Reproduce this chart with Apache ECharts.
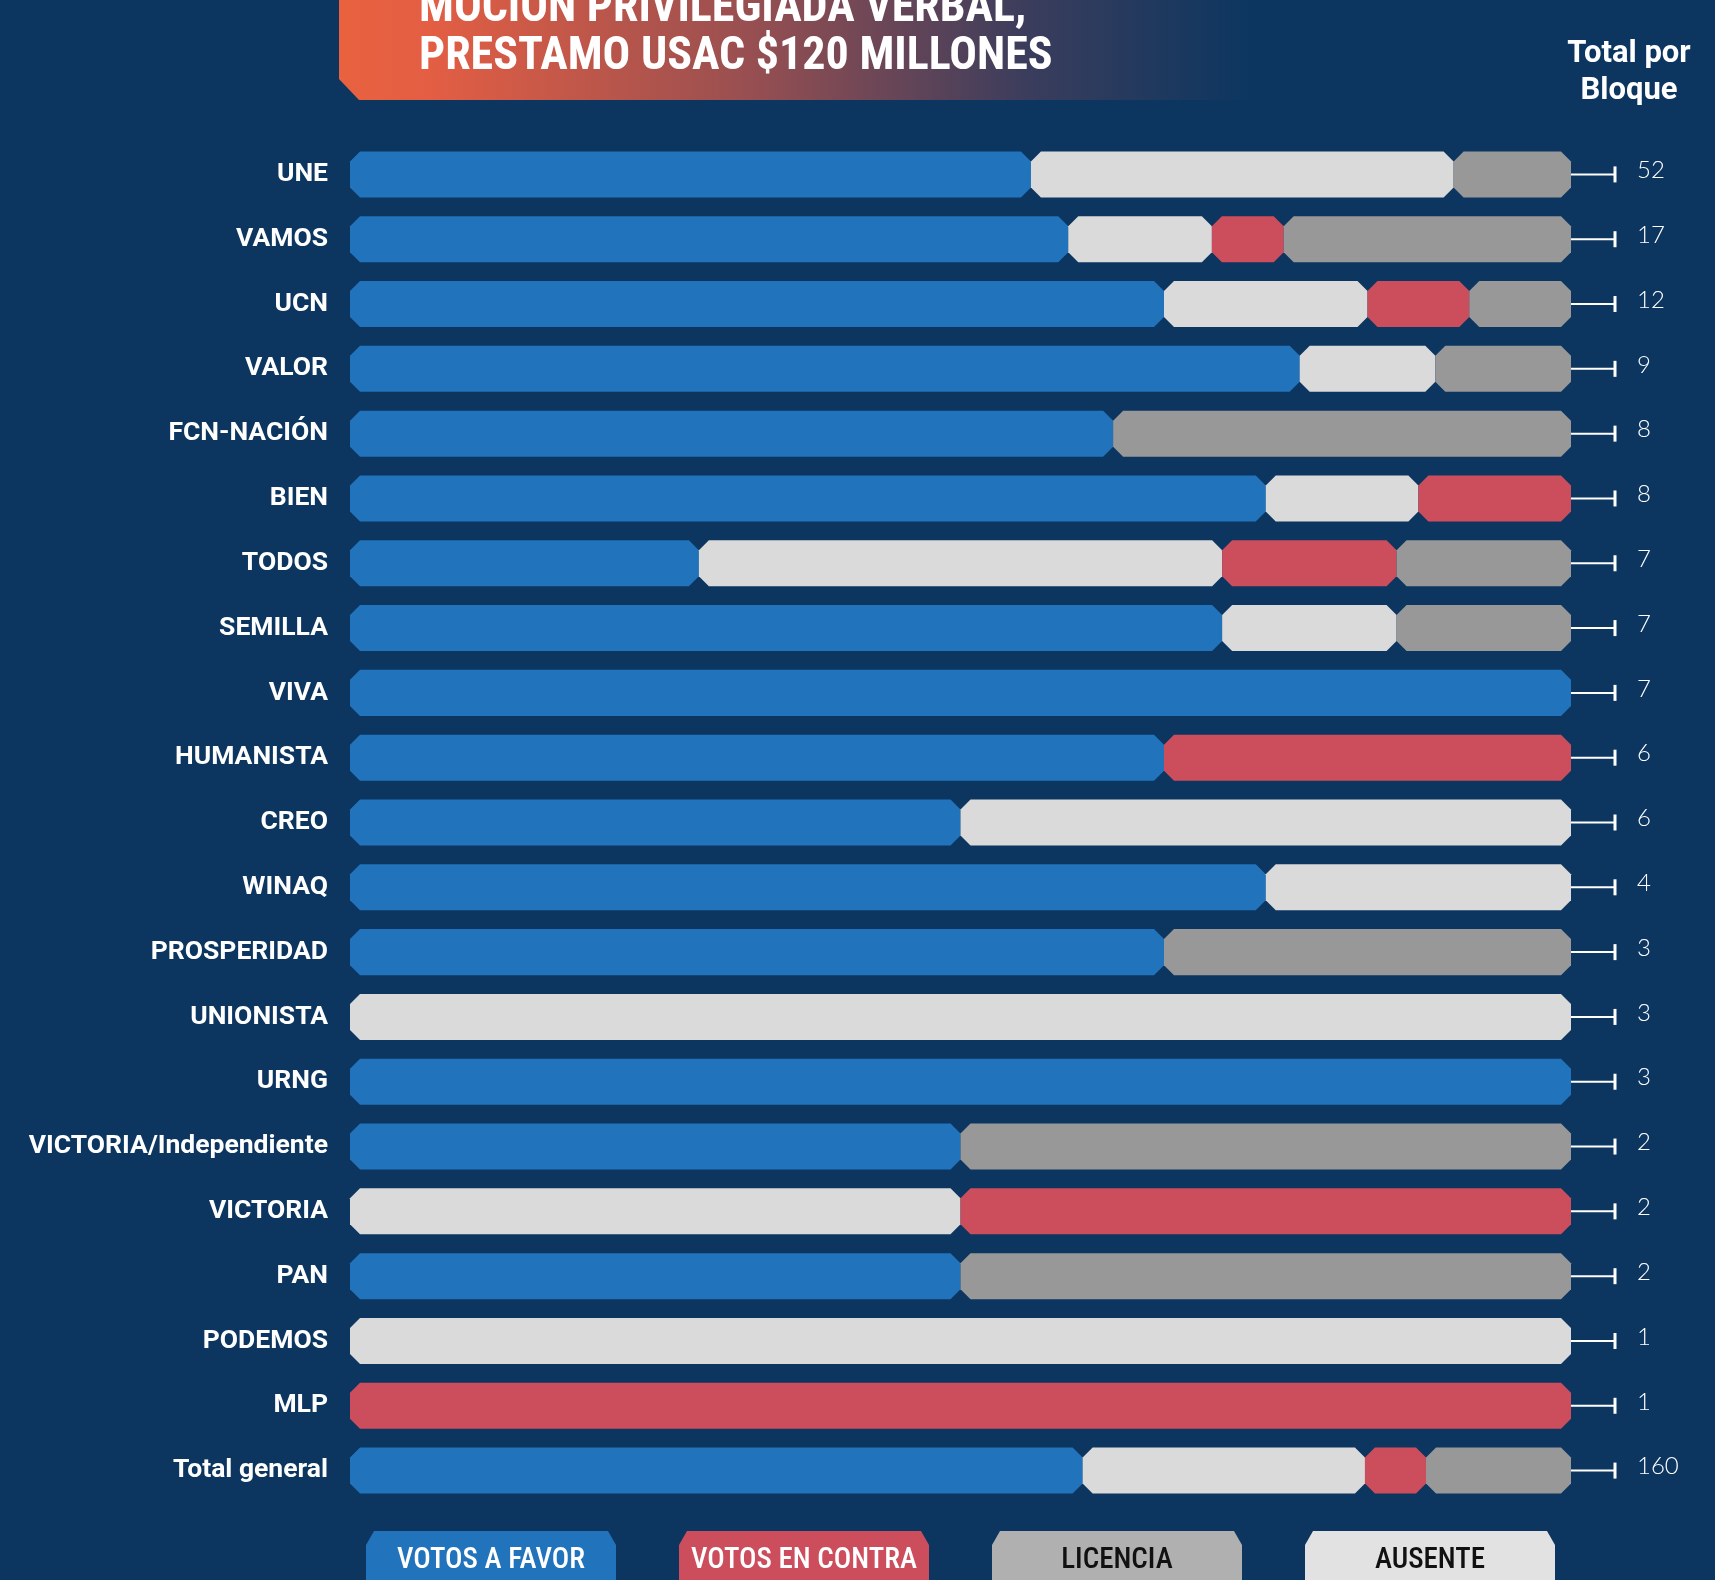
<!DOCTYPE html>
<html>
<head>
<meta charset="utf-8">
<script src="https://cdn.jsdelivr.net/npm/echarts@6/dist/echarts.min.js"></script>
<style>
html,body{margin:0;padding:0;background:#0C3660;}
#chart{width:1715px;height:1580px;}
</style>
</head>
<body>
<div id="chart"></div>
<script>
const titleLines = ['MOCIÓN PRIVILEGIADA VERBAL,', 'PRESTAMO USAC $120 MILLONES'];
const totalHeader = ['Total por', 'Bloque'];
const categories = ['UNE','VAMOS','UCN','VALOR','FCN-NACIÓN','BIEN','TODOS','SEMILLA','VIVA','HUMANISTA','CREO','WINAQ','PROSPERIDAD','UNIONISTA','URNG','VICTORIA/Independiente','VICTORIA','PAN','PODEMOS','MLP','Total general'];
const votosAFavor   = [29,10,8,7,5,6,2,5,7,4,3,3,2,0,3,1,0,1,0,0,96];
const ausente       = [18,2,2,1,0,1,3,1,0,0,3,1,0,3,0,0,1,0,1,0,37];
const votosEnContra = [0,1,1,0,0,1,1,0,0,2,0,0,0,0,0,0,1,0,0,1,8];
const licencia      = [5,4,1,1,3,0,1,1,0,0,0,0,1,0,0,1,0,1,0,0,19];
const totalPorBloque = [52,17,12,9,8,8,7,7,7,6,6,4,3,3,3,2,2,2,1,1,160];
const legendLabels = ['VOTOS A FAVOR','VOTOS EN CONTRA','LICENCIA','AUSENTE'];

const BG = '#0C3660';
const COND = "'Roboto Condensed','Liberation Sans Narrow','DejaVu Sans Condensed',Roboto,sans-serif";

// stack order in the bar: favor, ausente, contra, licencia
const stackSeries = [
  {name:'VOTOS A FAVOR', values: votosAFavor, color:'#2173BC'},
  {name:'AUSENTE', values: ausente, color:'#DADADA'},
  {name:'VOTOS EN CONTRA', values: votosEnContra, color:'#CC4E5C'},
  {name:'LICENCIA', values: licencia, color:'#989898'}
];

const cum = categories.map(() => 0);
const seriesList = stackSeries.map(s => {
  const data = [];
  categories.forEach((c, i) => {
    const t = totalPorBloque[i];
    const start = cum[i] / t;
    cum[i] += s.values[i];
    const end = cum[i] / t;
    if (s.values[i] > 0) data.push([i, start, end, s.values[i]]);
  });
  return {
    type: 'custom',
    name: s.name,
    encode: {x: [1, 2], y: 0},
    data: data,
    renderItem: function (params, api) {
      const cat = api.value(0);
      const p0 = api.coord([api.value(1), cat]);
      const p1 = api.coord([api.value(2), cat]);
      const h = api.size([0, 1])[1] * 0.71;
      const top = p0[1] - h / 2, bot = p0[1] + h / 2;
      const x0 = p0[0], x1 = p1[0];
      const c = Math.min(10, (x1 - x0) / 2);
      return {
        type: 'polygon',
        shape: {points: [[x0 + c, top], [x1 - c, top], [x1, top + c], [x1, bot - c], [x1 - c, bot], [x0 + c, bot], [x0, bot - c], [x0, top + c]]},
        style: {fill: s.color}
      };
    }
  };
});

seriesList.push({
  type: 'custom',
  name: 'totales',
  encode: {x: 1, y: 0},
  data: totalPorBloque.map((t, i) => [i, 1, t]),
  renderItem: function (params, api) {
    const p = api.coord([1, api.value(0)]);
    const xe = p[0] + 44;
    return {
      type: 'group',
      children: [
        {type: 'line', shape: {x1: p[0], y1: p[1], x2: xe, y2: p[1]}, style: {stroke: '#FFFFFF', lineWidth: 2}},
        {type: 'line', shape: {x1: xe, y1: p[1] - 8, x2: xe, y2: p[1] + 8}, style: {stroke: '#FFFFFF', lineWidth: 3}},
        {type: 'text', x: p[0] + 66, y: p[1] - 4, style: {text: String(api.value(2)), fill: '#FFFFFF', font: "300 24px Lato, 'Open Sans', sans-serif", textAlign: 'left', textVerticalAlign: 'middle'}}
      ]
    };
  }
});

const legendColors = [['#2173BC', '#FFFFFF'], ['#CC4E5C', '#FFFFFF'], ['#B0B0B0', '#111111'], ['#E2E2E2', '#111111']];
const legendGraphics = legendLabels.map((lab, k) => {
  const x0 = 366 + k * 313, w = 250, top = 1531, bot = 1600, c = 8;
  return {
    type: 'group',
    children: [
      {type: 'polygon', shape: {points: [[x0 + c, top], [x0 + w - c, top], [x0 + w, top + c + 6], [x0 + w, bot], [x0, bot], [x0, top + c + 6]]}, style: {fill: legendColors[k][0]}},
      {type: 'text', x: x0 + w / 2, y: 1561, style: {text: lab, fill: legendColors[k][1], font: '500 29px ' + COND, textAlign: 'center', textVerticalAlign: 'middle'}}
    ]
  };
});

const chart = echarts.init(document.getElementById('chart'));
chart.setOption({
  backgroundColor: BG,
  animation: false,
  grid: {left: 350, right: 144, top: 142, bottom: 77},
  xAxis: {type: 'value', min: 0, max: 1, show: false},
  yAxis: {
    type: 'category', data: categories, inverse: true,
    axisLine: {show: false}, axisTick: {show: false}, splitLine: {show: false},
    axisLabel: {color: '#FFFFFF', fontFamily: 'Roboto', fontWeight: 'bold', fontSize: 26.5, margin: 22, padding: [4, 0, 0, 0]}
  },
  graphic: [
    {
      type: 'polygon', z: 0,
      shape: {points: [[339, 0], [1250, 0], [1250, 100], [359, 100], [339, 79]]},
      style: {fill: new echarts.graphic.LinearGradient(0, 0, 1, 0, [
        {offset: 0, color: '#E8623F'}, {offset: 0.1, color: '#E35E43'}, {offset: 0.45, color: '#984F51'}, {offset: 0.75, color: '#3C3D5C'}, {offset: 1, color: BG}
      ])}
    },
    {type: 'text', x: 419, y: -14, style: {text: titleLines[0], fill: '#FFFFFF', font: 'bold 46px ' + COND, textAlign: 'left', textVerticalAlign: 'top'}},
    {type: 'text', x: 419, y: 34, style: {text: titleLines[1], fill: '#FFFFFF', font: 'bold 46px ' + COND, textAlign: 'left', textVerticalAlign: 'top'}},
    {type: 'text', x: 1629, y: 54, style: {text: totalHeader[0], fill: '#FFFFFF', font: 'bold 31px Roboto', textAlign: 'center', textVerticalAlign: 'middle'}},
    {type: 'text', x: 1629, y: 91, style: {text: totalHeader[1], fill: '#FFFFFF', font: 'bold 31px Roboto', textAlign: 'center', textVerticalAlign: 'middle'}}
  ].concat(legendGraphics),
  series: seriesList
});
</script>
</body>
</html>
